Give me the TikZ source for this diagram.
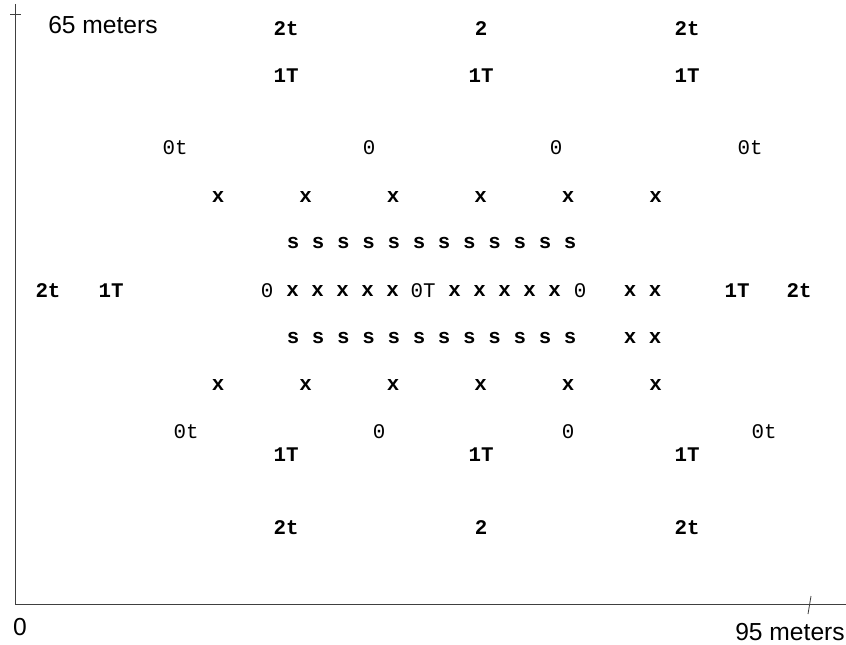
\documentclass[tikz,border=0pt]{standalone}
\usepackage{fontspec}
\setmainfont{Liberation Sans}
\setsansfont{Liberation Sans}
\setmonofont{Liberation Mono}
\begin{document}
\begin{tikzpicture}[x=0.025cm,y=-0.025cm,
    lab/.style={inner sep=0pt,font=\ttfamily\fontsize{14.8}{16}\selectfont},
    labb/.style={inner sep=0pt,font=\ttfamily\bfseries\fontsize{14.8}{16}\selectfont},
    axlab/.style={inner sep=0pt,font=\sffamily\fontsize{17.5}{19}\selectfont},
    axis/.style={draw=black!75,line width=0.6pt}]
    \useasboundingbox (0,0) rectangle (846,644);

    % axes
    \coordinate (top) at (15,4);
    \coordinate (orig) at (15,604);
    \coordinate (right) at (846,604);
    \coordinate (tl) at (10,14);
    \coordinate (tr) at (21,14);
    \coordinate (bl) at (808,614);
    \coordinate (bu) at (811,596);
    \path[axis] (top) edge (orig) (orig) edge (right) (tl) edge (tr) (bl) edge (bu);

    \node[axlab] (ymax) at (103,25) {65 meters};
    \node[axlab] (zero) at (20,627) {0};
    \node[axlab] (xmax) at (790,632) {95 meters};

    % upper half
    \node[labb] (u2a) at (286,29) {2t};
    \node[labb] (u2b) at (481,29) {2};
    \node[labb] (u2c) at (687,29) {2t};
    \node[labb] (u1a) at (286,76) {1T};
    \node[labb] (u1b) at (481,76) {1T};
    \node[labb] (u1c) at (687,76) {1T};
    \node[lab] (u0a) at (175,148) {0t};
    \node[lab] (u0b) at (369,148) {0};
    \node[lab] (u0c) at (556,148) {0};
    \node[lab] (u0d) at (750,148) {0t};
    \foreach \i in {0,...,5}
      \node[labb] (ux\i) at ({218+87.5*\i},197) {x};
    \foreach \i in {0,...,11}
      \node[labb] (us\i) at ({293+25.2*\i},243) {s};

    % middle row
    \node[labb] (m2a) at (48,291) {2t};
    \node[labb] (m1a) at (111,291) {1T};
    \node[lab] (m0a) at (267,291) {0};
    \foreach \i in {0,...,4}
      \node[labb] (mxa\i) at ({292.5+25*\i},291) {x};
    \node[lab] (m0T) at (423,291) {0T};
    \foreach \i in {0,...,4}
      \node[labb] (mxb\i) at ({454.5+25*\i},291) {x};
    \node[lab] (m0b) at (580,291) {0};
    \node[labb] (mxc0) at (630,291) {x};
    \node[labb] (mxc1) at (655,291) {x};
    \node[labb] (m1b) at (737,291) {1T};
    \node[labb] (m2b) at (799,291) {2t};

    % lower half
    \foreach \i in {0,...,11}
      \node[labb] (ls\i) at ({293+25.2*\i},338) {s};
    \node[labb] (lsx0) at (630,338) {x};
    \node[labb] (lsx1) at (655,338) {x};
    \foreach \i in {0,...,5}
      \node[labb] (lx\i) at ({218+87.5*\i},385) {x};
    \node[lab] (l0a) at (186,432) {0t};
    \node[lab] (l0b) at (379,432) {0};
    \node[lab] (l0c) at (568,432) {0};
    \node[lab] (l0d) at (764,432) {0t};
    \node[labb] (l1a) at (286,455) {1T};
    \node[labb] (l1b) at (481,455) {1T};
    \node[labb] (l1c) at (687,455) {1T};
    \node[labb] (l2a) at (286,528) {2t};
    \node[labb] (l2b) at (481,528) {2};
    \node[labb] (l2c) at (687,528) {2t};
\end{tikzpicture}
\end{document}
